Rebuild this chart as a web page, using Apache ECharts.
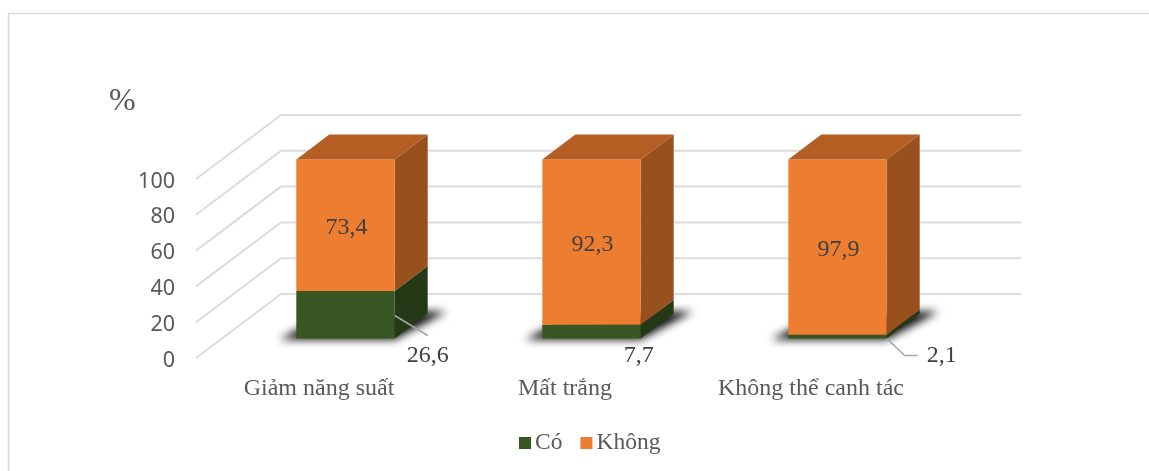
<!DOCTYPE html>
<html><head><meta charset="utf-8">
<style>html,body{margin:0;padding:0;background:#fff}#c{width:1149px;height:471px}</style>
<script src="https://cdn.jsdelivr.net/npm/echarts@6/dist/echarts.min.js"></script>
</head><body><div id="c"></div>
<script>
const categories = ['Giảm năng suất', 'Mất trắng', 'Không thể canh tác'];
const co = [26.6, 7.7, 2.1];
const khong = [73.4, 92.3, 97.9];
const yTicks = [0, 20, 40, 60, 80, 100];
const coLabels = ['26,6', '7,7', '2,1'];
const khongLabels = ['73,4', '92,3', '97,9'];

// 3D projection offsets (px) of the chart's oblique view
const WALL = [85, -64], WALL_EXTRA = 2, BAR_FRONT = [26.5, -19.5], BAR_DEPTH = [33, -25];
const SERIF = '"Liberation Serif","Times New Roman",serif';
const TXT = '#404040', AXIS_TXT = '#595959';
const COLORS = {
  co: {front: '#385723', side: '#243a17', top: '#2c451b'},
  khong: {front: '#ed7d31', side: '#98501e', top: '#b45e24'}
};
// callout placement relative to the bar's front-bottom-right corner
const coCallouts = [
  {label: [33, 17], line: [[0, -23], [33, -3]]},
  {label: [-2, 17], line: null},
  {label: [55, 17], line: [[0, 0], [18, 17], [31, 17]]}
];

function poly(points, fill, extra) {
  return Object.assign({type: 'polygon', shape: {points}, style: {fill}, silent: true}, extra || {});
}
function barGeom(api) {
  const c = api.value(0);
  const bw = api.size([1, 0])[0] * 0.4;
  const a = api.coord([c, api.value(1)]);
  const b = api.coord([c, api.value(2)]);
  const x0 = a[0] + BAR_FRONT[0] - bw / 2, x1 = x0 + bw;
  return {x0, x1, yb: a[1] + BAR_FRONT[1], yt: b[1] + BAR_FRONT[1]};
}
function renderStack(key, isTop, labels) {
  return function (params, api) {
    const g = barGeom(api), col = COLORS[key], dx = BAR_DEPTH[0], dy = BAR_DEPTH[1];
    const kids = [
      poly([[g.x1, g.yb], [g.x1 + dx, g.yb + dy], [g.x1 + dx, g.yt + dy], [g.x1, g.yt]], col.side),
      poly([[g.x0, g.yb], [g.x1, g.yb], [g.x1, g.yt], [g.x0, g.yt]], col.front)
    ];
    if (isTop) {
      kids.push(poly([[g.x0, g.yt], [g.x1, g.yt], [g.x1 + dx, g.yt + dy], [g.x0 + dx, g.yt + dy]], col.top));
      kids.push({type: 'text', silent: true, style: {
        text: labels[params.dataIndex], x: (g.x0 + g.x1) / 2 + 1, y: (g.yb + g.yt) / 2 + 3,
        align: 'center', verticalAlign: 'middle', fill: TXT, font: '24px ' + SERIF}});
    } else {
      const co = coCallouts[params.dataIndex];
      if (co.line) {
        kids.push({type: 'polyline', silent: true,
          shape: {points: co.line.map(p => [g.x1 + p[0], g.yb + p[1]])},
          style: {stroke: '#a6a6a6', lineWidth: 1.5, fill: null}});
      }
      kids.push({type: 'text', silent: true, style: {
        text: labels[params.dataIndex], x: g.x1 + co.label[0], y: g.yb + co.label[1],
        align: 'center', verticalAlign: 'middle', fill: TXT, font: '24px ' + SERIF}});
    }
    return {type: 'group', children: kids};
  };
}
const chart = echarts.init(document.getElementById('c'), null, {renderer: 'canvas'});
chart.setOption({
  animation: false,
  backgroundColor: '#fff',
  title: {text: '%', left: 104, top: 81, textStyle: {fontFamily: SERIF, fontSize: 32, fontWeight: 'normal', color: AXIS_TXT}},
  graphic: [{type: 'polyline', silent: true,
    shape: {points: [[8.5, 471], [8.5, 13.5], [1149, 13.5]]},
    style: {stroke: '#d9d9d9', lineWidth: 1.5, fill: null}}],
  legend: {
    left: 514, top: 426, itemWidth: 12, itemHeight: 12, itemGap: 18, icon: 'rect',
    data: ['Có', 'Không'],
    textStyle: {fontFamily: SERIF, fontSize: 23.5, color: AXIS_TXT, padding: [0, 0, 0, -1]}
  },
  grid: {left: 196, width: 738, top: 179, height: 179},
  xAxis: {type: 'category', data: categories,
    axisLine: {show: false}, axisTick: {show: false},
    axisLabel: {margin: 19, interval: 0, fontFamily: SERIF, fontSize: 24, color: AXIS_TXT}},
  yAxis: {type: 'value', min: 0, max: 100, interval: 20,
    axisLine: {show: false}, axisTick: {show: false}, splitLine: {show: false},
    axisLabel: {margin: 21, verticalAlign: 'top', lineHeight: 5, fontFamily: '"Noto Sans",sans-serif', fontSize: 21.5, color: AXIS_TXT}},
  series: [
    {type: 'custom', name: 'walls', coordinateSystem: 'cartesian2d', silent: true, z: 1,
      data: yTicks.map(v => [0, v]), encode: {x: 0, y: 1},
      renderItem(params, api) {
        const p = api.coord([0, api.value(1)]);
        const x0 = params.coordSys.x, w = params.coordSys.width;
        return {type: 'polyline', silent: true,
          shape: {points: [[x0, p[1]], [x0 + WALL[0], p[1] + WALL[1]], [x0 + w + WALL[0] + WALL_EXTRA, p[1] + WALL[1]]]},
          style: {stroke: '#dcdcdc', lineWidth: 2, fill: null}};
      }},
    {type: 'custom', name: 'floorShadow', silent: true, z: 2,
      data: categories.map((c, i) => [i, 0, 0]), encode: {x: 0, y: 1},
      renderItem(params, api) {
        const g = barGeom(api), off = 3000;
        // only the blurred shadow of this off-canvas shape lands on the floor
        return poly([[g.x0 - 17 - off, g.yb + 1], [g.x1 - off, g.yb + 1], [g.x1 + 52 - off, g.yb - 27], [g.x1 + 30 - off, g.yb - 27], [g.x0 + 15 - off, g.yb - 16]],
          '#000', {style: {fill: '#000', shadowBlur: 8, shadowColor: 'rgba(15,15,15,1)', shadowOffsetX: off}});
      }},
    {type: 'custom', name: 'Có', z: 3, itemStyle: {color: COLORS.co.front},
      data: co.map((v, i) => [i, 0, v]), encode: {x: 0, y: 2},
      renderItem: renderStack('co', false, coLabels)},
    {type: 'custom', name: 'Không', z: 3, itemStyle: {color: COLORS.khong.front},
      data: khong.map((v, i) => [i, co[i], co[i] + v]), encode: {x: 0, y: 2},
      renderItem: renderStack('khong', true, khongLabels)}
  ]
});
</script></body></html>
